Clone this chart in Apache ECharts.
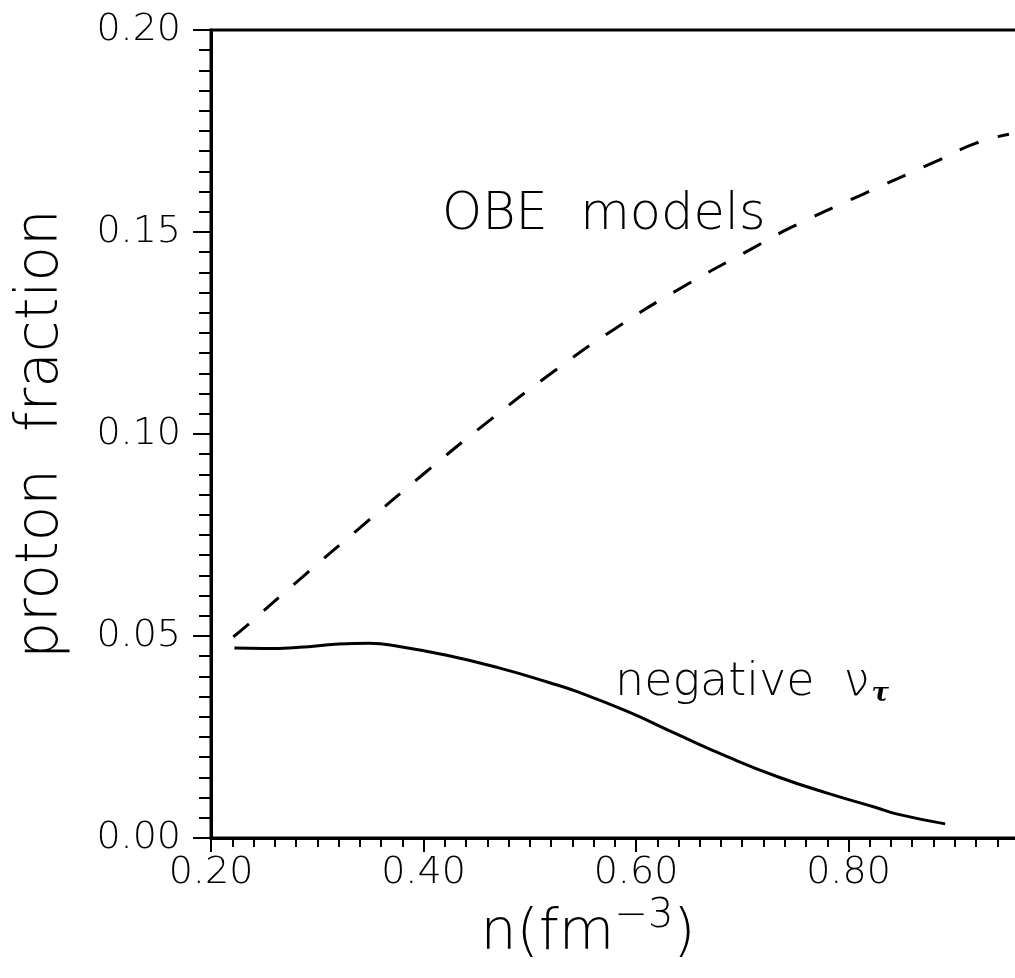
<!DOCTYPE html>
<html>
<head>
<meta charset="utf-8">
<script src="https://cdn.jsdelivr.net/npm/echarts@6/dist/echarts.min.js"></script>
<style>
  html, body { margin: 0; padding: 0; background: #fff; }
  #chart { width: 1015px; height: 978px; }
</style>
</head>
<body>
<div id="chart"></div>
<script>
// density n (fm^-3) vs proton fraction
const obeDensity = [0.221, 0.229, 0.286, 0.342, 0.400, 0.459, 0.518, 0.581, 0.644, 0.710, 0.745, 0.814, 0.885, 0.920, 0.951]
const obeFraction = [0.0498, 0.0515, 0.0646, 0.0772, 0.0901, 0.1027, 0.1146, 0.1262, 0.1364, 0.1460, 0.1510, 0.1594, 0.1678, 0.1720, 0.1742]

const negDensity = [0.222, 0.250, 0.283, 0.320, 0.349, 0.377, 0.424, 0.471, 0.518, 0.546, 0.593, 0.640, 0.687, 0.734, 0.780, 0.825, 0.846, 0.891]
const negFraction = [0.0470, 0.0469, 0.0472, 0.0480, 0.0482, 0.0474, 0.0451, 0.0421, 0.0385, 0.0361, 0.0312, 0.0255, 0.0200, 0.0151, 0.0111, 0.0076, 0.0059, 0.0035]

const xTickLabels = ['0.20', '0.40', '0.60', '0.80', '1.00']
const yTickLabels = ['0.00', '0.05', '0.10', '0.15', '0.20']

const FONT = 'DejaVu Sans'

const chart = echarts.init(document.getElementById('chart'), null, { renderer: 'canvas' })

const zip = (xs, ys) => xs.map((x, i) => [x, ys[i]])

const option = {
  animation: false,
  backgroundColor: '#fff',
  grid: {
    left: 211,
    top: 30,
    bottom: 140,
    right: -46,
    containLabel: false,
    outerBoundsMode: 'none',
    show: true,
    borderColor: '#000',
    borderWidth: 3,
  },
  xAxis: {
    type: 'value',
    min: 0.2,
    max: 1.0,
    interval: 0.2,
    name: 'n(fm{sup|−3})',
    nameLocation: 'middle',
    nameGap: 114,
    nameTextStyle: {
      fontFamily: FONT,
      fontWeight: 200,
      fontSize: 57,
      color: '#000',
      lineHeight: 74,
      verticalAlign: 'bottom',
      padding: [0, 96, 0, 0],
      rich: {
        sup: { fontFamily: FONT, fontWeight: 200, fontSize: 40, color: '#000', verticalAlign: 'top', lineHeight: 74 },
      },
    },
    axisLine: { lineStyle: { color: '#000', width: 3 } },
    axisTick: { inside: false, length: 14, lineStyle: { color: '#000', width: 2 } },
    minorTick: { show: true, splitNumber: 10, length: 9, lineStyle: { color: '#000', width: 2 } },
    splitLine: { show: false },
    axisLabel: {
      margin: 16,
      fontFamily: FONT,
      fontWeight: 200,
      fontSize: 38,
      color: '#000',
      formatter: (v) => xTickLabels[Math.round((v - 0.2) / 0.2)] || '',
    },
  },
  yAxis: {
    type: 'value',
    min: 0,
    max: 0.2,
    interval: 0.05,
    name: 'proton  fraction',
    nameLocation: 'middle',
    nameGap: 140,
    nameRotate: 90,
    nameTextStyle: {
      fontFamily: FONT,
      fontWeight: 200,
      fontSize: 58,
      color: '#000',
    },
    axisLine: { lineStyle: { color: '#000', width: 3 } },
    axisTick: { inside: false, length: 18, lineStyle: { color: '#000', width: 2 } },
    minorTick: { show: true, splitNumber: 10, length: 12, lineStyle: { color: '#000', width: 2 } },
    splitLine: { show: false },
    axisLabel: {
      margin: 30,
      fontFamily: FONT,
      fontWeight: 200,
      fontSize: 38,
      color: '#000',
      formatter: (v) => yTickLabels[Math.round(v / 0.05)],
    },
  },
  series: [
    {
      name: 'OBE models',
      type: 'line',
      data: zip(obeDensity, obeFraction),
      smooth: true,
      symbol: 'none',
      lineStyle: { color: '#000', width: 3, type: [20, 20] },
    },
    {
      name: 'negative nu_tau',
      type: 'line',
      data: zip(negDensity, negFraction),
      smooth: true,
      symbol: 'none',
      lineStyle: { color: '#000', width: 3 },
    },
  ],
  graphic: [
    {
      type: 'text',
      left: 442,
      top: 190,
      style: { text: 'OBE  models', fontFamily: FONT, fontWeight: 200, fontSize: 51, fill: '#000' },
    },
    {
      type: 'text',
      left: 615,
      top: 660,
      style: {
        text: 'negative  ν{sub|τ}',
        fontFamily: FONT,
        fontWeight: 200,
        fontSize: 46,
        fill: '#000',
        rich: {
          sub: { fontFamily: 'DejaVu Serif', fontStyle: 'italic', fontWeight: 'bold', fontSize: 26, fill: '#000', padding: [22, 0, 0, 2] },
        },
      },
    },
  ],
}

chart.setOption(option)
</script>
</body>
</html>
